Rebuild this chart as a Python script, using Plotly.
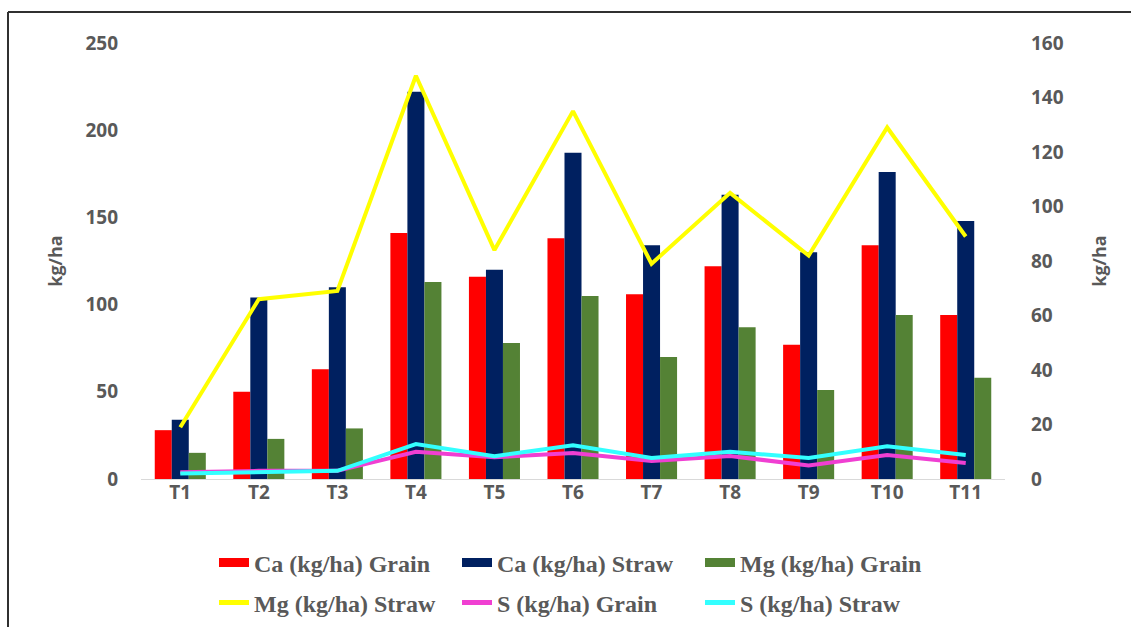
import plotly.graph_objects as go

# Treatments
treatments = ["T1", "T2", "T3", "T4", "T5", "T6", "T7", "T8", "T9", "T10", "T11"]

# Bars, left axis (kg/ha)
ca_grain = [28, 50, 63, 141, 116, 138, 106, 122, 77, 134, 94]
ca_straw = [34, 104, 110, 222, 120, 187, 134, 163, 130, 176, 148]
mg_grain = [15, 23, 29, 113, 78, 105, 70, 87, 51, 94, 58]

# Lines, right axis (kg/ha)
mg_straw = [19, 66, 69, 148, 84, 135, 79, 105, 82, 129, 89]
s_grain = [2.5, 3, 3, 10, 8, 9.5, 6.6, 8.4, 5, 8.8, 5.9]
s_straw = [2, 2.5, 3, 12.8, 8.4, 12.4, 7.7, 10, 7.7, 12, 8.8]

RED = "#FF0000"
NAVY = "#002060"
GREEN = "#548235"
YELLOW = "#FFFF00"
MAGENTA = "#F03FD2"
CYAN = "#33FFFF"
GREY = "#595959"

fig = go.Figure()

bar_series = [
    ("Ca (kg/ha) Grain", ca_grain, RED),
    ("Ca (kg/ha) Straw", ca_straw, NAVY),
    ("Mg (kg/ha) Grain", mg_grain, GREEN),
]
for name, vals, col in bar_series:
    fig.add_trace(go.Bar(x=treatments, y=vals, name=name, marker_color=col,
                         marker_line_width=0, showlegend=False, yaxis="y"))

line_series = [
    ("Mg (kg/ha) Straw", mg_straw, YELLOW),
    ("S (kg/ha) Grain", s_grain, MAGENTA),
    ("S (kg/ha) Straw", s_straw, CYAN),
]
for name, vals, col in line_series:
    fig.add_trace(go.Scatter(x=treatments, y=vals, name=name, mode="lines",
                             line=dict(color=col, width=4), showlegend=False,
                             yaxis="y2"))

# Legend entries: bars as thick strokes (first row), lines below (second row)
for name, vals, col in bar_series:
    fig.add_trace(go.Scatter(x=[None], y=[None], name=name, mode="lines",
                             line=dict(color=col, width=9), yaxis="y",
                             legend="legend"))
for name, vals, col in line_series:
    fig.add_trace(go.Scatter(x=[None], y=[None], name=name, mode="lines",
                             line=dict(color=col, width=5), yaxis="y2",
                             legend="legend2"))

tick_font = dict(family="Open Sans", size=19, color=GREY, weight="bold")
title_font = dict(family="Open Sans", size=18, color=GREY, weight="bold")
legend_font = dict(family="Liberation Serif", size=24, color=GREY, weight="bold")

W, H = 1131, 627
L, R, T, B = 141, 126, 43, 148
pw, ph = W - L - R, H - T - B


def px_x(px):
    return (px - L) / pw


def px_y(py):
    return (H - B - py) / ph


def legend_row(y_px):
    return dict(orientation="h", x=px_x(214), y=px_y(y_px), xanchor="left",
                yanchor="middle", entrywidth=198, entrywidthmode="pixels",
                font=legend_font, bgcolor="rgba(0,0,0,0)")


fig.update_layout(
    width=W, height=H,
    margin=dict(l=L, r=R, t=T, b=B, autoexpand=False),
    paper_bgcolor="white", plot_bgcolor="white",
    barmode="group", bargap=0.35, bargroupgap=0,
    xaxis=dict(showgrid=False, showline=True, linecolor="#D9D9D9", linewidth=1,
               ticks="", tickfont=tick_font, ticklabelstandoff=-4),
    yaxis=dict(range=[0, 250], dtick=50, showgrid=False, zeroline=False,
               showline=False, ticks="", tickfont=tick_font,
               ticklabelstandoff=22,
               title=dict(text="kg/ha", font=title_font, standoff=18)),
    yaxis2=dict(range=[0, 160], dtick=20, overlaying="y", side="right",
                showgrid=False, zeroline=False, showline=False, ticks="",
                tickfont=tick_font, ticklabelstandoff=25,
                title=dict(text="kg/ha", font=title_font, standoff=30)),
    legend=legend_row(563),
    legend2=legend_row(603),
    shapes=[
        dict(type="line", xref="paper", yref="paper",
             x0=px_x(8), x1=px_x(1131), y0=px_y(12), y1=px_y(12),
             line=dict(color="#303030", width=2)),
        dict(type="line", xref="paper", yref="paper",
             x0=px_x(8), x1=px_x(8), y0=px_y(12), y1=px_y(627),
             line=dict(color="#303030", width=2)),
    ],
)

fig.write_html("out.html")
